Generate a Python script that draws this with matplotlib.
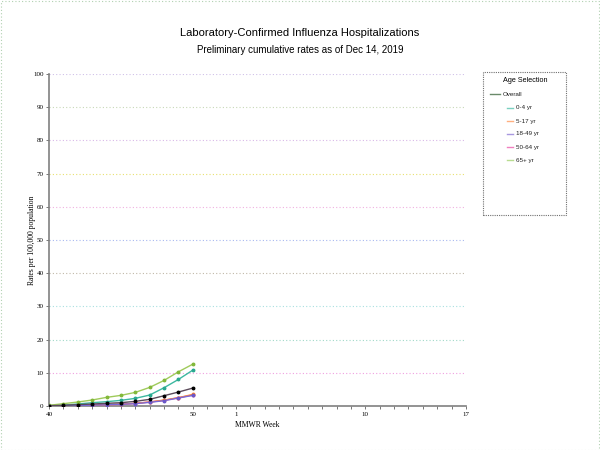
import matplotlib
matplotlib.use('Agg')
import matplotlib.pyplot as plt
from matplotlib.lines import Line2D
from matplotlib.patches import Rectangle

# MMWR weeks shown on the axis (season 2019-20)
weeks = list(range(40, 53)) + list(range(1, 18))
labeled_weeks = [40, 50, 1, 10, 17]

# observed weeks so far
obs_weeks = [40, 41, 42, 43, 44, 45, 46, 47, 48, 49, 50]

overall = [0.1, 0.2, 0.4, 0.6, 0.8, 1.0, 1.4, 2.0, 3.1, 4.2, 5.4]
age_0_4 = [0.1, 0.3, 0.6, 1.0, 1.3, 1.7, 2.3, 3.3, 5.5, 8.0, 10.8]
age_5_17 = [0.05, 0.1, 0.15, 0.25, 0.35, 0.5, 0.8, 1.2, 1.8, 2.5, 3.5]
age_18_49 = [0.05, 0.1, 0.15, 0.25, 0.35, 0.5, 0.7, 1.1, 1.6, 2.4, 3.2]
age_50_64 = [0.05, 0.1, 0.2, 0.3, 0.4, 0.55, 0.8, 1.2, 1.7, 2.5, 3.3]
age_65 = [0.2, 0.7, 1.2, 1.8, 2.6, 3.2, 4.1, 5.6, 7.7, 10.3, 12.6]

series = [
    ('Overall', overall, '#5a4a5a', 'black'),
    ('0-4 yr', age_0_4, '#3cb8a0', '#2aa890'),
    ('5-17 yr', age_5_17, '#ff8c3a', '#ff7f2a'),
    ('18-49 yr', age_18_49, '#7a68d8', '#6a58c8'),
    ('50-64 yr', age_50_64, '#e0409a', '#d0308a'),
    ('65+ yr', age_65, '#9fca5a', '#82b83a'),
]
# layer order of the lines (pink sits underneath)
draw_z = [6, 4, 4, 5, 3, 4]
legend_line_colors = ['#6a8a6a', '#7ad0c0', '#ffb080', '#a898e0', '#f080c0', '#b8dc90']

grid_vals = [10, 20, 30, 40, 50, 60, 70, 80, 90, 100]
grid_colors = ['#f0a0e0', '#a0d8c8', '#a8e0e0', '#c0b8a8', '#a8b8f0',
               '#f0b0e0', '#e8e070', '#d8b8e8', '#c8d8b8', '#d0c0e8']

fig = plt.figure(figsize=(6, 4.5), dpi=100)
ax = fig.add_axes([49 / 600, 44 / 450, 417 / 600, 332 / 450])

xpos = {w: i for i, w in enumerate(weeks)}

for yv, gc in zip(grid_vals, grid_colors):
    ax.axhline(yv, color=gc, lw=0.8, ls=(0, (1, 2)), zorder=0)

for (name, vals, lc, mc), z in zip(series, draw_z):
    xs = [xpos[w] for w in obs_weeks]
    ax.plot(xs, vals, color=lc, lw=1.0, marker='o', ms=1.8,
            mfc=mc, mec=mc, zorder=z)

ax.set_xlim(0, len(weeks) - 1)
ax.set_ylim(0, 100)
ax.set_xticks(range(len(weeks)))
ax.set_xticklabels([str(w) if w in labeled_weeks else '' for w in weeks])
ax.set_yticks(range(0, 101, 10))

for side in ['top', 'right']:
    ax.spines[side].set_visible(False)
for side in ['left', 'bottom']:
    ax.spines[side].set_color('#808080')
    ax.spines[side].set_linewidth(1.2)

ax.tick_params(axis='both', length=2.5, width=0.6, color='#606060',
               labelsize=5, pad=1.5)
for lab in ax.get_xticklabels() + ax.get_yticklabels():
    lab.set_family('Liberation Serif')

ax.set_xlabel('MMWR Week', family='Liberation Serif', fontsize=5.5, labelpad=3)
ax.set_ylabel('Rates per 100,000 population', family='Liberation Serif',
              fontsize=5.5, labelpad=-2)

fig.text(0.5, 1 - 33 / 450, 'Laboratory-Confirmed Influenza Hospitalizations',
         ha='center', va='center', family='Liberation Sans', fontsize=8)
fig.text(0.5, 1 - 50 / 450, 'Preliminary cumulative rates as of Dec 14, 2019',
         ha='center', va='center', family='Liberation Sans', fontsize=7)

# legend box, drawn by hand to get the indented entries
def fx(px):
    return px / 600


def fy(py):
    return 1 - py / 450


fig.add_artist(Rectangle((fx(483), fy(215)), 83 / 600, 143 / 450,
                         transform=fig.transFigure, fill=False,
                         ec='#707070', lw=0.8, ls=(0, (1, 1))))
fig.text(fx(525), fy(80), 'Age Selection', ha='center', va='center',
         family='Liberation Sans', fontsize=5.2)
row_y = [94, 108, 121, 134, 147, 160]
for i, (s, lc) in enumerate(zip(series, legend_line_colors)):
    if i == 0:
        x0, x1, tx = 490, 500, 503
    else:
        x0, x1, tx = 507, 513, 516
    fig.add_artist(Line2D([fx(x0), fx(x1)], [fy(row_y[i]), fy(row_y[i])],
                          transform=fig.transFigure, color=lc, lw=1.0))
    fig.text(fx(tx), fy(row_y[i]), s[0], ha='left', va='center',
             family='Liberation Sans', fontsize=4.5, color='#202020')

# dotted frame around the whole picture
fig.add_artist(Rectangle((0.001, 0.001), 0.997, 0.997, transform=fig.transFigure,
                         fill=False, ec='#b0d0b0', lw=0.8, ls=(0, (1, 2))))

fig.savefig('out.png', dpi=100)
